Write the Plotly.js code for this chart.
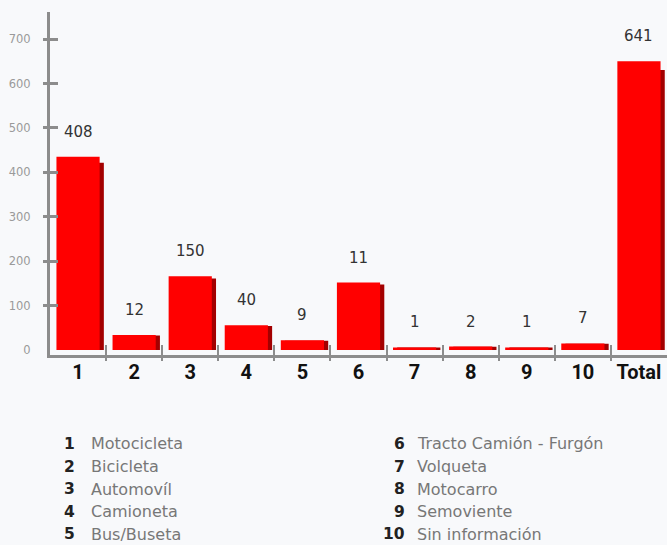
<!DOCTYPE html>
<html>
<head>
<meta charset="utf-8">
<script src="https://cdn.plot.ly/plotly-3.0.1.min.js"></script>
<style>
  html, body { margin: 0; padding: 0; background: #f8f9fb; }
  #chart { width: 667px; height: 545px; }
</style>
</head>
<body>
<div id="chart"></div>
<script>
// ---- data ----
const categories = ['1', '2', '3', '4', '5', '6', '7', '8', '9', '10', 'Total'];
const barValues = [435, 34, 166, 56, 22, 152, 6, 8, 6, 15, 650];
const labelTexts = ['408', '12', '150', '40', '9', '11', '1', '2', '1', '7', '641'];
const yTickVals = [0, 100, 200, 300, 400, 500, 600, 700];
const legendNumbers = ['1', '2', '3', '4', '5', '6', '7', '8', '9', '10'];
const legendNames = ['Motocicleta', 'Bicicleta', 'Automovíl', 'Camioneta', 'Bus/Buseta',
                     'Tracto Camión - Furgón', 'Volqueta', 'Motocarro', 'Semoviente', 'Sin información'];

// ---- layout constants ----
const W = 667, H = 545;
const M = { l: 50, r: 0, t: 12, b: 190 };
const PW = W - M.l - M.r, PH = H - M.t - M.b;
const px2x = px => (px - M.l) / PW;
const py2y = py => (H - M.b - py) / PH;
const yRange = [-11, 761];
const xRange = [-0.5, categories.length - 0.5];
const axisGray = '#8c8c8c';

const shadowValues = barValues.map(v => v * 0.97); // perspective shadow effect
const boundaryVals = categories.slice(1).map((_, i) => i + 0.5);
const innerTicks = yTickVals.filter(v => v > 0);

const traces = [
  {
    type: 'bar', x: categories, y: shadowValues,
    width: 0.77, offset: -0.31,
    marker: { color: '#a30000', line: { width: 0 } },
    hoverinfo: 'skip', showlegend: false
  },
  {
    type: 'bar', x: categories, y: barValues,
    width: 0.77, offset: -0.385,
    marker: { color: '#ff0000', line: { width: 0 } },
    hoverinfo: 'skip', showlegend: false
  },
  { type: 'scatter', mode: 'markers', x: [0], y: [0], xaxis: 'x2', yaxis: 'y2',
    marker: { opacity: 0, size: 1 }, hoverinfo: 'skip', showlegend: false },
  { type: 'scatter', mode: 'markers', x: [0], y: [0], xaxis: 'x3', yaxis: 'y3',
    marker: { opacity: 0, size: 1 }, hoverinfo: 'skip', showlegend: false }
];

const annotations = [];
categories.forEach((c, i) => {
  annotations.push({
    x: i, y: barValues[i], xref: 'x', yref: 'y',
    text: labelTexts[i], showarrow: false,
    yanchor: 'bottom', xanchor: 'center', yshift: 14,
    font: { family: 'DejaVu Sans', size: 15, color: '#333333' }
  });
});

legendNumbers.forEach((n, i) => {
  const col = i < 5 ? 0 : 1;
  const row = i % 5;
  const numRight = col === 0 ? 77 : 407;
  const nameLeft = col === 0 ? 89 : 415;
  const py = 444 + row * 22.6;
  annotations.push({
    x: px2x(numRight), y: py2y(py), xref: 'paper', yref: 'paper',
    text: '<b>' + n + '</b>', showarrow: false, xanchor: 'right', yanchor: 'middle',
    font: { family: 'DejaVu Sans', size: 15.5, color: '#222222' }
  });
  annotations.push({
    x: px2x(nameLeft), y: py2y(py), xref: 'paper', yref: 'paper',
    text: legendNames[i], showarrow: false, xanchor: 'left', yanchor: 'middle',
    font: { family: 'DejaVu Sans', size: 16, color: '#777777' }
  });
});

const layout = {
  width: W, height: H,
  margin: M,
  paper_bgcolor: '#f8f9fb', plot_bgcolor: 'rgba(0,0,0,0)',
  barmode: 'overlay',
  showlegend: false,
  xaxis: {
    type: 'category', range: xRange, fixedrange: true,
    showline: true, linecolor: axisGray, linewidth: 3,
    ticks: '', showgrid: false, zeroline: false,
    ticklabelstandoff: -3,
    tickfont: { family: 'Roboto', size: 20, color: '#111111', weight: 'bold' }
  },
  xaxis2: {
    overlaying: 'x', anchor: 'y', type: 'linear', range: xRange,
    tickvals: boundaryVals, ticks: 'outside', ticklen: 5, tickwidth: 2, tickcolor: axisGray,
    showticklabels: false, showline: false, showgrid: false, zeroline: false
  },
  xaxis3: {
    overlaying: 'x', anchor: 'y', type: 'linear', range: xRange,
    tickvals: boundaryVals, ticks: 'inside', ticklen: 10, tickwidth: 2, tickcolor: axisGray,
    showticklabels: false, showline: false, showgrid: false, zeroline: false
  },
  yaxis: {
    range: yRange, fixedrange: true,
    showline: true, linecolor: axisGray, linewidth: 3,
    tickvals: yTickVals, ticks: '', showgrid: false, zeroline: false,
    ticklabelstandoff: 14,
    tickfont: { family: 'DejaVu Sans', size: 11.5, color: '#9a9a9a' }
  },
  yaxis2: {
    overlaying: 'y', anchor: 'x', range: yRange,
    tickvals: innerTicks, ticks: 'outside', ticklen: 6, tickwidth: 3, tickcolor: axisGray,
    showticklabels: false, showline: false, showgrid: false, zeroline: false
  },
  yaxis3: {
    overlaying: 'y', anchor: 'x', range: yRange,
    tickvals: innerTicks, ticks: 'inside', ticklen: 8, tickwidth: 3, tickcolor: axisGray,
    showticklabels: false, showline: false, showgrid: false, zeroline: false
  },
  annotations: annotations
};

Plotly.newPlot('chart', traces, layout, { staticPlot: true, displayModeBar: false });
</script>
</body>
</html>
